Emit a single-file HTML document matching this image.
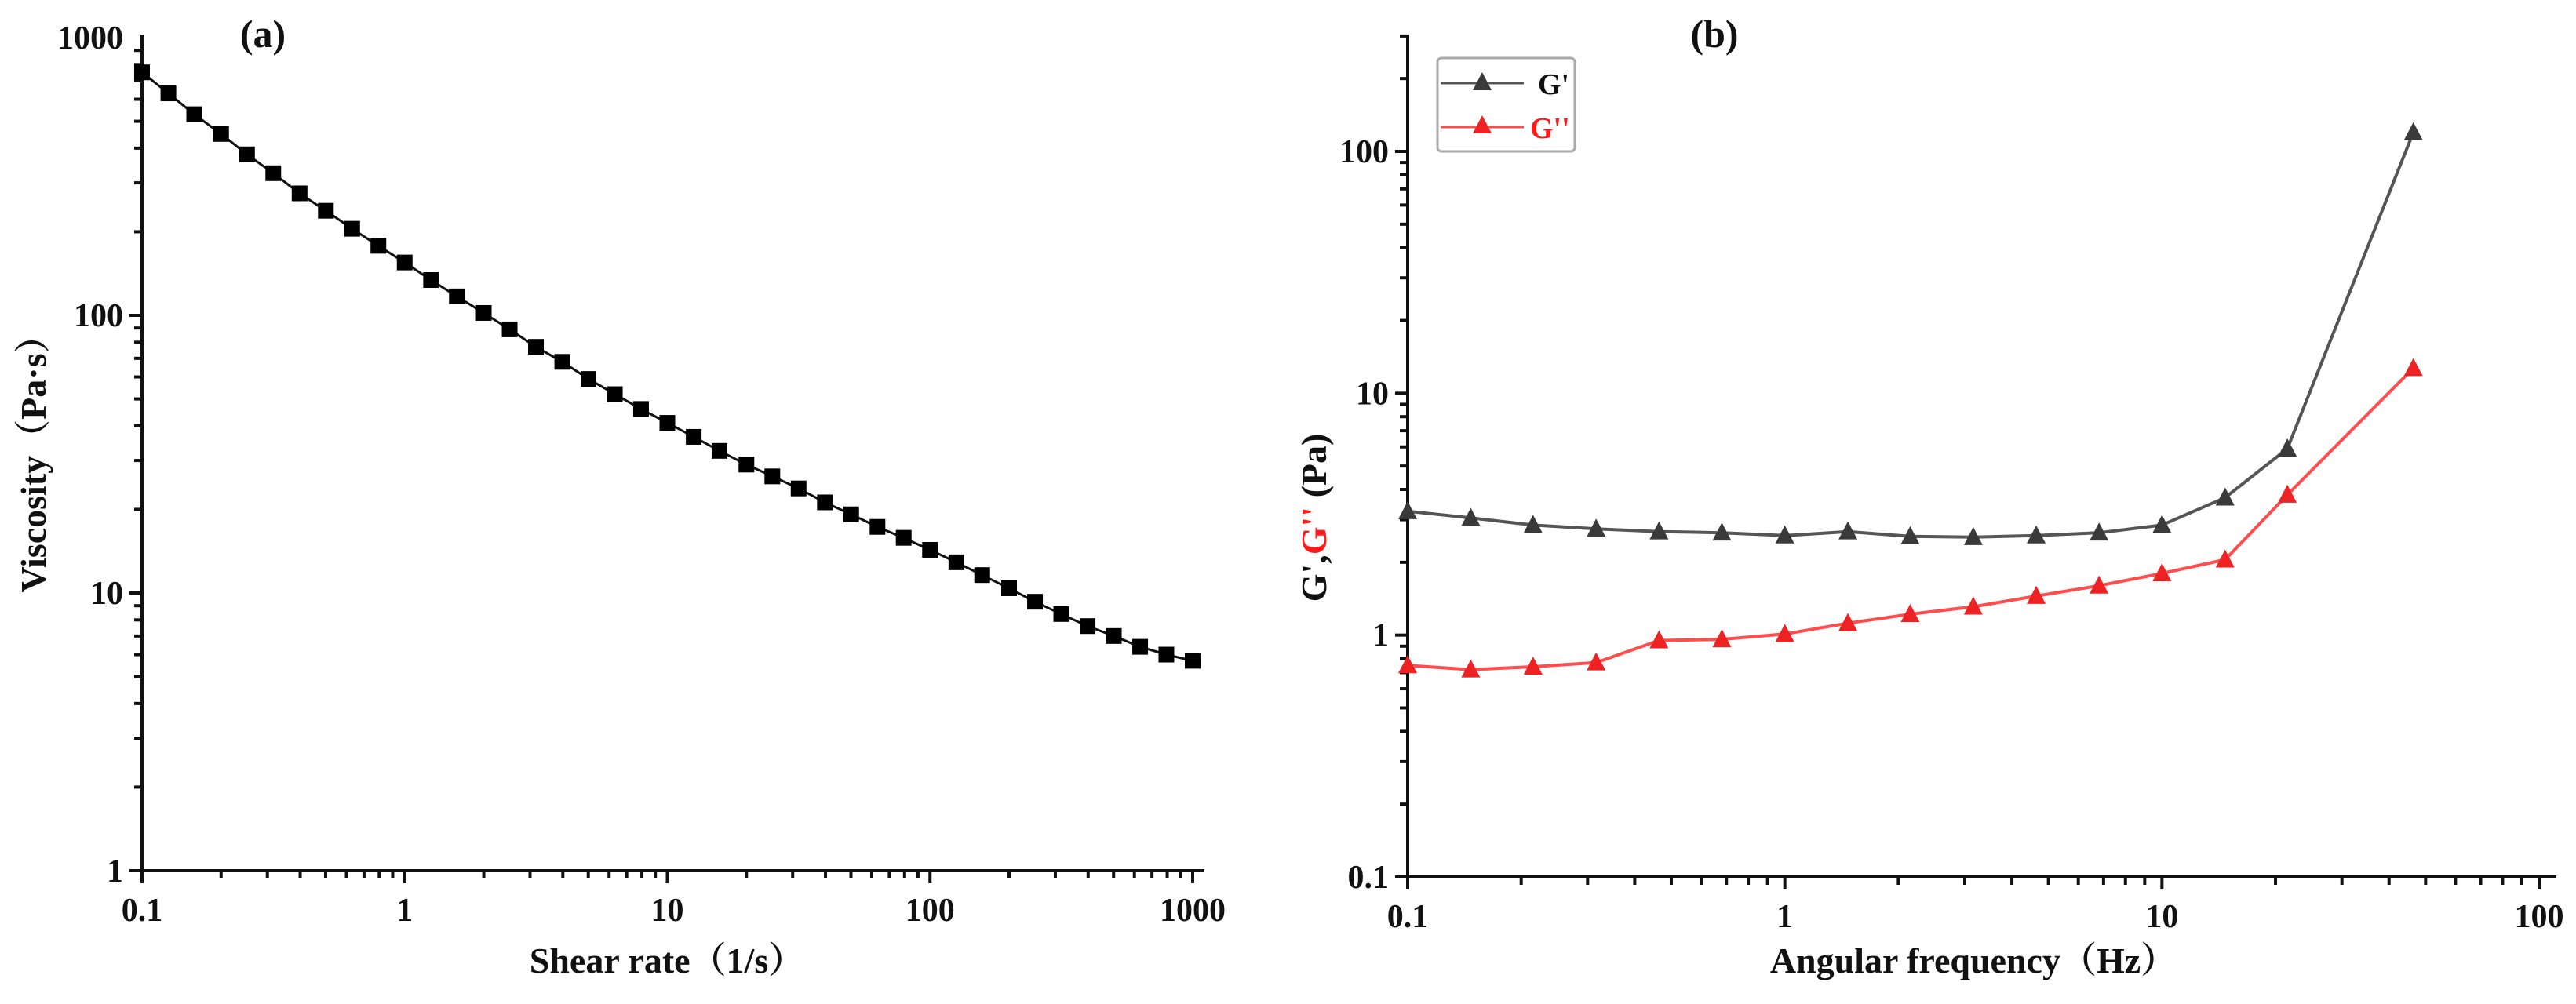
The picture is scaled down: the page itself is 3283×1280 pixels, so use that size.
<!DOCTYPE html>
<html><head><meta charset="utf-8">
<style>
html,body{margin:0;padding:0;background:#fff;}
svg{display:block;}
text{font-family:"Liberation Serif","Noto Serif CJK SC",serif;font-weight:bold;fill:#111;}
</style></head>
<body>
<svg id="fig" width="3283" height="1280" viewBox="0 0 3283 1280" xmlns="http://www.w3.org/2000/svg">
<g id="ga"></g>
<g id="gb"></g>
</svg>
<script>
// ---- Chart (a) data ----
const shearRates = [0.1,0.126,0.158,0.2,0.251,0.316,0.398,0.501,0.631,0.794,1,1.26,1.58,2,2.51,3.16,3.98,5.01,6.31,7.94,10,12.6,15.8,20,25.1,31.6,39.8,50.1,63.1,79.4,100,126,158,200,251,316,398,501,631,794,1000];
const viscosity = [750,630,530,450,380,325,275,238,205,178,155,134,117,102,89,77,68,59,52,46,41,36.5,32.5,29,26.3,23.8,21.2,19.2,17.3,15.8,14.3,12.9,11.6,10.4,9.3,8.4,7.6,7.0,6.4,6.0,5.7];
const aXTicks = [0.1,1,10,100,1000];
const aXTickLabels = ["0.1","1","10","100","1000"];
const aYTicks = [1,10,100,1000];
const aYTickLabels = ["1","10","100","1000"];
// ---- Chart (b) data ----
const freqs = [0.1,0.147,0.215,0.316,0.464,0.681,1,1.47,2.15,3.16,4.64,6.81,10,14.7,21.5,46.4];
const gPrime = [3.25,3.05,2.85,2.75,2.68,2.65,2.58,2.68,2.56,2.54,2.58,2.65,2.85,3.7,5.9,120];
const gDouble = [0.75,0.72,0.74,0.77,0.95,0.96,1.01,1.12,1.22,1.31,1.45,1.6,1.8,2.05,3.8,12.7];
const bXTicks = [0.1,1,10,100];
const bXTickLabels = ["0.1","1","10","100"];
const bYTicks = [0.1,1,10,100];
const bYTickLabels = ["0.1","1","10","100"];

const NS="http://www.w3.org/2000/svg";
function mk(parent,tag,attrs,txt){const e=document.createElementNS(NS,tag);for(const k in attrs)e.setAttribute(k,attrs[k]);if(txt!==undefined)e.textContent=txt;parent.appendChild(e);return e;}
function logScale(d0,d1,r0,r1){return v=>r0+(Math.log10(v)-Math.log10(d0))/(Math.log10(d1)-Math.log10(d0))*(r1-r0);}

function drawAxes(g,x,y,xmin,xmax,ymin,ymax,ox,oy,xEnd,yTop,xt,xtl,yt,ytl){
  const ax=mk(g,'line',{x1:ox,y1:oy,x2:xEnd,y2:oy,stroke:'#111','stroke-width':4});
  
  
  const ay=mk(g,'line',{x1:ox,y1:oy,x2:ox,y2:yTop,stroke:'#111','stroke-width':4});
  
  
  for(let d=Math.log10(xmin);d<Math.log10(xmax);d++){
    for(let m=1;m<10;m++){const v=Math.pow(10,d)*m;const px=x(v);
      const t=mk(g,'line',{x1:px,y1:oy,x2:px,y2:oy+(m===1?16:10),stroke:'#111','stroke-width':4});
      
      }
  }
  mk(g,'line',{x1:x(xmax),y1:oy,x2:x(xmax),y2:oy+16,stroke:'#111','stroke-width':4});
  for(let d=Math.log10(ymin);d<Math.log10(ymax);d++){
    for(let m=1;m<10;m++){const v=Math.pow(10,d)*m;const py=y(v);if(py<yTop-2)continue;
      const t=mk(g,'line',{x1:ox,y1:py,x2:ox-(m===1?16:10),y2:py,stroke:'#111','stroke-width':4});
      
      }
  }
  xt.forEach((v,i)=>{const t=mk(g,'text',{x:x(v),y:oy+64,'text-anchor':'middle','font-size':42},xtl[i]);
    
    });
  yt.forEach((v,i)=>{const t=mk(g,'text',{x:ox-24,y:y(v)+14,'text-anchor':'end','font-size':42},ytl[i]);
    
    });
}

// ---- Chart (a) ----
(function(){
  const g=document.getElementById('ga');
  const ox=181, oy=1110;
  const x=logScale(0.1,1000,ox,1520);
  const y=logScale(1,1000,oy,48);
  drawAxes(g,x,y,0.1,1000,1,1000,ox,oy,1535,44,aXTicks,aXTickLabels,aYTicks,aYTickLabels);
  const pts=shearRates.map((v,i)=>x(v).toFixed(1)+','+y(viscosity[i]).toFixed(1)).join(' ');
  const l=mk(g,'polyline',{points:pts,fill:'none',stroke:'#111','stroke-width':3});
  
  
  shearRates.forEach((v,i)=>{const r=mk(g,'rect',{x:x(v)-10,y:y(viscosity[i])-10,width:20,height:20,fill:'#000'});
    
    });
  const t1=mk(g,'text',{x:850,y:1240,'text-anchor':'middle','font-size':46},'Shear rate（1/s）');
  
  
  const t2=mk(g,'text',{x:0,y:0,'text-anchor':'middle','font-size':46,transform:'translate(58,580) rotate(-90)'},'Viscosity（Pa·s）');
  
  
  const t3=mk(g,'text',{x:335,y:60,'text-anchor':'middle','font-size':50,'font-weight':'normal'},'(a)');
  
  
})();

// ---- Chart (b) ----
(function(){
  const g=document.getElementById('gb');
  const ox=1794, oy=1118;
  const x=logScale(0.1,100,ox,3236);
  const y=logScale(0.1,100,oy,193);
  drawAxes(g,x,y,0.1,100,0.1,300,ox,oy,3258,44,bXTicks,bXTickLabels,bYTicks,bYTickLabels);
  function tri(px,py){return 'M'+(px-12)+','+(py+10)+' L'+px+','+(py-13)+' L'+(px+12)+','+(py+10)+' Z';}
  const series=[[gPrime,'#555','#3a3a3a','g-prime'],[gDouble,'#ff4d4d','#ee2222','g-double-prime']];
  series.forEach(s=>{
    const pts=freqs.map((v,i)=>x(v).toFixed(1)+','+y(s[0][i]).toFixed(1)).join(' ');
    const l=mk(g,'polyline',{points:pts,fill:'none',stroke:s[1],'stroke-width':4});
    
    
    freqs.forEach((v,i)=>{const p=mk(g,'path',{d:tri(x(v),y(s[0][i])),fill:s[2]});
      
      });
  });
  const lg=mk(g,'g',{});
  
  
  mk(lg,'rect',{x:1832,y:74,width:175,height:119,rx:5,fill:'#fff',stroke:'#aaa','stroke-width':3});
  mk(lg,'line',{x1:1836,y1:106,x2:1942,y2:106,stroke:'#555','stroke-width':3});
  mk(lg,'path',{d:tri(1889,105),fill:'#3a3a3a'});
  const e1=mk(lg,'text',{x:1960,y:120,'font-size':38},"G'");
  
  
  mk(lg,'line',{x1:1836,y1:162,x2:1942,y2:162,stroke:'#ff4d4d','stroke-width':3});
  mk(lg,'path',{d:tri(1889,160),fill:'#ee2222'});
  const e2=mk(lg,'text',{x:1950,y:176,'font-size':38,style:'fill:#ff1a1a'},"G''");
  
  
  const t1=mk(g,'text',{x:2515,y:1240,'text-anchor':'middle','font-size':46},'Angular frequency（Hz）');
  
  
  const t2=mk(g,'text',{x:0,y:0,'text-anchor':'middle','font-size':46,transform:'translate(1690,660) rotate(-90)'});
  
  
  mk(t2,'tspan',{},"G',");
  mk(t2,'tspan',{style:'fill:#ff1a1a'},"G''");
  mk(t2,'tspan',{},' (Pa)');
  const t3=mk(g,'text',{x:2185,y:60,'text-anchor':'middle','font-size':50,'font-weight':'normal'},'(b)');
  
  
})();
</script>
</body></html>
